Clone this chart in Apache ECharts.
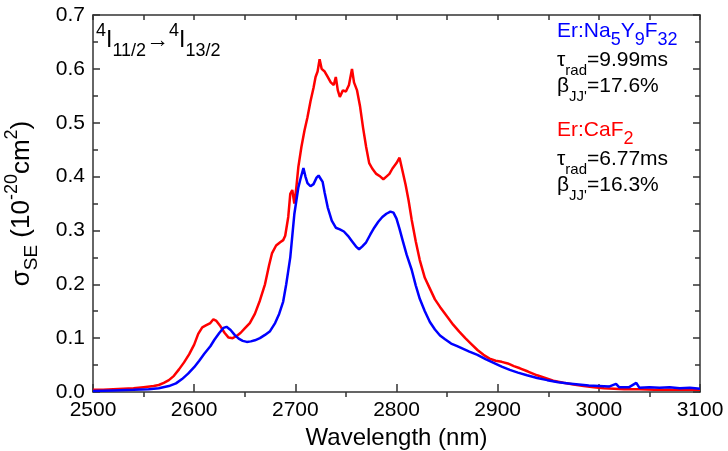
<!DOCTYPE html>
<html>
<head>
<meta charset="utf-8">
<script src="https://cdn.jsdelivr.net/npm/echarts@6/dist/echarts.min.js"></script>
<style>
html,body{margin:0;padding:0;background:#fff;}
#chart{width:728px;height:451px;}
</style>
</head>
<body>
<div id="chart"></div>
<script>
// ---- Data ----
const xTicks = [2500, 2600, 2700, 2800, 2900, 3000, 3100];
const xMinorTicks = [2550, 2650, 2750, 2850, 2950, 3050];
const yTicks = [0.0, 0.1, 0.2, 0.3, 0.4, 0.5, 0.6, 0.7];

const caf2Wavelength = [2500,2510,2520,2530,2540,2550,2560,2565,2570,2575,2580,2585,2590,2595,2600,2604,2608,2612,2616,2619,2622,2626,2630,2634,2638,2642,2646,2650,2655,2660,2665,2670,2674,2677,2681,2685,2688,2690,2693,2695,2697,2699,2701,2703,2706,2709,2712,2715,2718,2720,2722,2724,2726,2729,2732,2735,2738,2740,2742,2744,2747,2750,2753,2756,2758,2761,2764,2767,2770,2773,2776,2780,2784,2787,2790,2793,2796,2800,2803,2806,2809,2812,2815,2819,2823,2828,2833,2838,2843,2850,2856,2862,2868,2874,2880,2886,2892,2898,2904,2910,2916,2922,2930,2939,2947,2955,2965,2975,2985,2995,3005,3015,3025,3040,3055,3070,3085,3100];
const caf2Sigma = [0.004,0.004,0.005,0.006,0.007,0.009,0.011,0.013,0.017,0.022,0.030,0.042,0.055,0.070,0.088,0.108,0.120,0.124,0.128,0.135,0.132,0.122,0.110,0.101,0.100,0.104,0.110,0.118,0.128,0.145,0.170,0.200,0.235,0.258,0.272,0.278,0.282,0.290,0.325,0.368,0.375,0.350,0.380,0.418,0.455,0.485,0.510,0.540,0.565,0.585,0.595,0.618,0.600,0.595,0.585,0.575,0.570,0.585,0.560,0.548,0.560,0.558,0.570,0.600,0.575,0.560,0.530,0.490,0.455,0.425,0.415,0.405,0.400,0.395,0.400,0.405,0.415,0.425,0.435,0.410,0.385,0.355,0.320,0.280,0.245,0.212,0.192,0.172,0.158,0.140,0.125,0.112,0.100,0.089,0.078,0.069,0.062,0.058,0.056,0.053,0.048,0.044,0.038,0.031,0.026,0.021,0.017,0.014,0.011,0.009,0.007,0.006,0.005,0.005,0.004,0.004,0.004,0.004];

const nyfWavelength = [2500,2520,2540,2555,2565,2575,2582,2588,2594,2600,2605,2610,2616,2620,2625,2629,2632,2636,2640,2644,2648,2652,2656,2660,2665,2670,2675,2680,2684,2688,2691,2693,2695,2697,2699,2701,2703,2705,2708,2710,2712,2715,2718,2721,2723,2725,2727,2729,2732,2736,2740,2744,2748,2752,2756,2760,2763,2766,2770,2774,2778,2782,2786,2790,2794,2797,2800,2803,2806,2810,2815,2819,2823,2828,2833,2838,2843,2848,2854,2860,2866,2872,2880,2888,2896,2904,2912,2920,2929,2939,2949,2960,2970,2980,2990,3000,3010,3017,3020,3030,3037,3040,3050,3060,3070,3080,3090,3100];
const nyfSigma = [0.002,0.003,0.004,0.005,0.007,0.011,0.016,0.024,0.034,0.046,0.058,0.071,0.085,0.097,0.110,0.119,0.121,0.115,0.106,0.099,0.095,0.093,0.094,0.096,0.100,0.106,0.113,0.128,0.145,0.168,0.200,0.225,0.250,0.290,0.330,0.355,0.380,0.395,0.416,0.400,0.388,0.382,0.386,0.398,0.402,0.396,0.390,0.370,0.343,0.318,0.305,0.302,0.298,0.290,0.280,0.270,0.265,0.270,0.278,0.292,0.305,0.316,0.325,0.331,0.335,0.333,0.322,0.303,0.282,0.255,0.227,0.198,0.173,0.150,0.130,0.116,0.105,0.098,0.090,0.085,0.080,0.075,0.069,0.061,0.054,0.047,0.041,0.036,0.031,0.026,0.022,0.018,0.016,0.014,0.012,0.011,0.010,0.015,0.009,0.009,0.017,0.008,0.009,0.008,0.009,0.007,0.008,0.006];

function pairs(xs, ys) { return xs.map((x, i) => [x, ys[i]]); }

const axisColor = '#333';
const txt = '#000';
const sansFont = 'Liberation Sans, Arial, sans-serif';

const chart = echarts.init(document.getElementById('chart'), null, {renderer: 'canvas'});

function richLine(text, color, mainSize, subSize, top) {
  return {
    type: 'text', left: 557, top: top,
    style: {
      text: text,
      rich: {
        n: {fontSize: mainSize, lineHeight: 36, fontFamily: sansFont, fill: color},
        sub: {fontSize: subSize, lineHeight: subSize, verticalAlign: 'bottom', fontFamily: sansFont, fill: color}
      }
    }
  };
}

const option = {
  animation: false,
  backgroundColor: '#fff',
  grid: {left: 93, right: 28, top: 15, bottom: 59, containLabel: false, outerBoundsMode: 'none'},
  xAxis: [
    {
      type: 'value', position: 'bottom', min: 2500, max: 3100, interval: 100,
      axisLine: {show: true, lineStyle: {color: axisColor, width: 1.5}},
      axisTick: {show: true, inside: true, length: 8, lineStyle: {color: axisColor, width: 1.5}},
      axisLabel: {show: true, color: txt, fontSize: 21, fontFamily: sansFont, margin: 8,
                  customValues: xTicks, formatter: v => String(v)},
      splitLine: {show: false},
      name: 'Wavelength (nm)', nameLocation: 'middle', nameGap: 31,
      nameTextStyle: {color: txt, fontSize: 24, fontFamily: sansFont}
    },
    {
      type: 'value', position: 'bottom', min: 2500, max: 3100, interval: 50,
      axisLine: {show: false},
      axisTick: {show: true, inside: false, length: 5, customValues: xMinorTicks,
                 lineStyle: {color: axisColor, width: 1.5}},
      axisLabel: {show: false},
      splitLine: {show: false}
    },
    {
      type: 'value', position: 'top', min: 2500, max: 3100, interval: 50,
      axisLine: {show: true, lineStyle: {color: axisColor, width: 1.5}},
      axisTick: {show: true, inside: true, length: 5, lineStyle: {color: axisColor, width: 1.5}},
      axisLabel: {show: false},
      splitLine: {show: false}
    }
  ],
  yAxis: [
    {
      type: 'value', position: 'left', min: 0, max: 0.7, interval: 0.1,
      axisLine: {show: true, lineStyle: {color: axisColor, width: 1.5}},
      axisTick: {show: true, inside: true, length: 7, lineStyle: {color: axisColor, width: 1.5}},
      minorTick: {show: true, splitNumber: 2, length: 5, lineStyle: {color: axisColor, width: 1.5}},
      axisLabel: {show: true, color: txt, fontSize: 21, fontFamily: sansFont, margin: 8,
                  customValues: yTicks, formatter: v => v.toFixed(1)},
      splitLine: {show: false},
      name: '{n|σ}{sub|SE}{n| (10}{sup|-20}{n|cm}{sup|2}{n|)}',
      nameLocation: 'middle', nameGap: 52, nameRotate: 90,
      nameTextStyle: {
        color: txt, fontFamily: sansFont,
        rich: {
          n: {fontSize: 26, lineHeight: 38, fontFamily: sansFont, color: txt},
          sub: {fontSize: 19, lineHeight: 19, verticalAlign: 'bottom', fontFamily: sansFont, color: txt},
          sup: {fontSize: 18, lineHeight: 18, verticalAlign: 'top', fontFamily: sansFont, color: txt}
        }
      }
    },
    {
      type: 'value', position: 'right', min: 0, max: 0.7, interval: 0.1,
      axisLine: {show: true, lineStyle: {color: axisColor, width: 1.5}},
      axisTick: {show: true, inside: true, length: 7, lineStyle: {color: axisColor, width: 1.5}},
      minorTick: {show: true, splitNumber: 2, length: 5, lineStyle: {color: axisColor, width: 1.5}},
      axisLabel: {show: false},
      splitLine: {show: false}
    }
  ],
  series: [
    {
      name: 'Er:CaF2', type: 'line', xAxisIndex: 0, yAxisIndex: 0,
      data: pairs(caf2Wavelength, caf2Sigma),
      showSymbol: false, symbol: 'none', smooth: false,
      lineStyle: {color: '#ff0000', width: 2.5}, itemStyle: {color: '#ff0000'}
    },
    {
      name: 'Er:Na5Y9F32', type: 'line', xAxisIndex: 0, yAxisIndex: 0,
      data: pairs(nyfWavelength, nyfSigma),
      showSymbol: false, symbol: 'none', smooth: false,
      lineStyle: {color: '#0000ff', width: 2.5}, itemStyle: {color: '#0000ff'}
    }
  ],
  graphic: [
    {
      type: 'text', left: 96, top: 22,
      style: {
        text: '{sup|4}{n|I}{sub|11/2}{n|→}{sup|4}{n|I}{sub|13/2}',
        rich: {
          n: {fontSize: 23, lineHeight: 38, fontFamily: sansFont, fill: txt},
          sub: {fontSize: 18, lineHeight: 18, verticalAlign: 'bottom', fontFamily: sansFont, fill: txt},
          sup: {fontSize: 18, lineHeight: 18, verticalAlign: 'top', fontFamily: sansFont, fill: txt}
        }
      }
    },
    richLine('{n|Er:Na}{sub|5}{n|Y}{sub|9}{n|F}{sub|32}', '#0000ff', 21, 18, 21),
    richLine('{n|τ}{sub|rad}{n|=9.99ms}', txt, 21, 15, 50),
    richLine("{n|β}{sub|JJ'}{n|=17.6%}", txt, 21, 15, 76),
    richLine('{n|Er:CaF}{sub|2}', '#ff0000', 21, 18, 120),
    richLine('{n|τ}{sub|rad}{n|=6.77ms}', txt, 21, 15, 149),
    richLine("{n|β}{sub|JJ'}{n|=16.3%}", txt, 21, 15, 175)
  ]
};

chart.setOption(option);
</script>
</body>
</html>
